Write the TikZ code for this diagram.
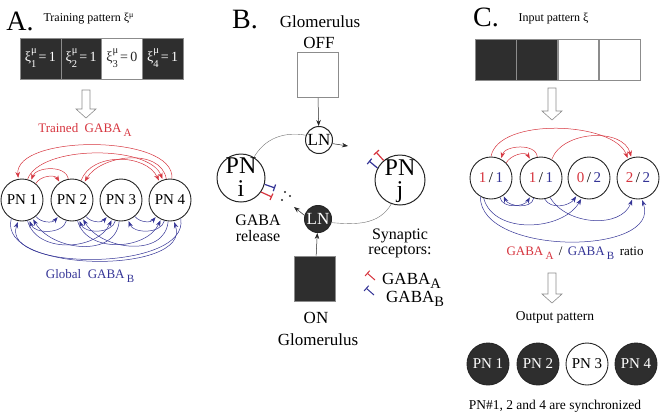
\documentclass[tikz,border=0pt]{standalone}
\usepackage{fontspec}
\setmainfont{Liberation Serif}
\usetikzlibrary{arrows.meta}
\definecolor{gabared}{RGB}{214,52,62}
\definecolor{gabablue}{RGB}{52,52,150}
\definecolor{cellfill}{RGB}{46,46,46}
\definecolor{edgegray}{RGB}{140,140,140}
\newcommand{\fs}[1]{\fontsize{#1}{#1}\selectfont}
\newcommand{\gsub}[1]{\raisebox{-0.6ex}{\scalebox{0.85}{#1}}}
\newcommand{\xicell}[2]{ξ\rlap{\raisebox{1.2ex}{\scalebox{0.75}{μ}}}\raisebox{-1ex}{\scalebox{0.75}{#1}}\,=\,#2}
\newcommand{\hollowdown}[3]{%
  \draw[hollow] (#1-4,-#2) -- (#1-4,-#3+9) -- (#1-10,-#3+9) -- (#1,-#3)
    -- (#1+10,-#3+9) -- (#1+4,-#3+9) -- (#1+4,-#2) -- cycle;}
\tikzset{
  panel/.style={font=\fs{28}},
  cell/.style={draw=edgegray, fill=cellfill, text=white, minimum width=40.75pt,
    minimum height=41pt, inner sep=0pt, font=\fs{14}},
  cellOff/.style={cell, fill=white, text=black!85},
  pn/.style={circle, draw=black!85, line width=0.9pt, minimum size=42pt, inner sep=0pt, font=\fs{15}},
  pnOn/.style={pn, fill=cellfill, text=white},
  bigpn/.style={circle, draw=black!85, line width=1pt, inner sep=0pt},
  bigtxt/.style={font=\fs{24}, inner sep=0pt, anchor=base},
  ln/.style={circle, draw=black!85, line width=1pt, minimum size=27pt, inner sep=0pt, font=\fs{17}},
  gabaA/.style={draw=gabared, line width=0.5pt, shorten >=1pt, -{Stealth[length=6pt,width=4.5pt]}},
  gabaB/.style={draw=gabablue, line width=0.5pt, shorten >=1pt, -{Stealth[length=6pt,width=4.5pt]}},
  hollow/.style={draw=edgegray, fill=white, line width=0.6pt},
  wire/.style={draw=black!55, line width=0.4pt},
  feed/.style={draw=black!85, line width=0.5pt, -{Stealth[length=6pt,width=4.5pt]}},
  synA/.style={draw=gabared, line width=1.2pt, -{Bar[width=7pt]}},
  synB/.style={draw=gabablue, line width=1.2pt, -{Bar[width=7pt]}},
  glom/.style={draw=edgegray, line width=0.7pt, minimum width=41pt, minimum height=45pt, inner sep=0pt},
  txt/.style={font=\fs{17}, inner sep=1pt},
  btxt/.style={font=\fs{16}, inner sep=0pt, anchor=base}
}
\begin{document}
\begin{tikzpicture}[x=1pt,y=1pt]
  \useasboundingbox (0,0) rectangle (664,-416);

  % A. training
  \node[panel] (labA) at (20,-21) {A.};
  \node[anchor=west, font=\fs{12}] (trainA) at (40,-19) {Training pattern ξ\textsuperscript{μ}};
  \foreach \k/\x/\v in {1/40.4/1, 2/81.1/1, 4/162.6/1}
    \node[cell] (xa\k) at (\x,-58.5) {\xicell{\k}{\v}};
  \node[cellOff] (xa3) at (121.9,-58.5) {\xicell{3}{0}};
  \hollowdown{86}{90}{118}
  \node[font=\fs{13}, text=gabared] (trainedA) at (85,-130) {Trained\enspace GABA\,\gsub{A}};
  \foreach \k/\x in {1/22, 2/72, 3/121, 4/170}
    \node[pn] (pa\k) at (\x,-200) {PN \k};

  \draw[gabaA] (pa1.50) to[out=60,in=120] (pa2.125);
  \draw[gabaA] (pa2.100) to[out=100,in=70] (pa1.65);
  \draw[gabaA] (pa2.65) to[out=70,in=115] (pa4.120);
  \draw[gabaA] (pa4.100) to[out=100,in=60] (pa2.55);
  \draw[gabaA] (pa1.75) to[out=70,in=110,looseness=0.7] (pa4.110);
  \draw[gabaA] (pa4.85) to[out=85,in=95,looseness=0.75] (pa1.100);

  \foreach \i/\j/\a/\b/\l in {1/2/-50/-130/1, 2/3/-50/-130/1, 3/4/-50/-130/1,
      2/1/-105/-70/1, 3/2/-105/-70/1, 4/3/-105/-70/1,
      1/3/-75/-115/1.05, 2/4/-75/-115/1.05, 3/1/-95/-60/1.1, 4/2/-95/-60/1.1}
    \draw[gabaB] (pa\i.\a) to[out=\a,in=\b,looseness=\l] (pa\j.\b);
  \draw[gabaB] (pa1.-120) to[out=-105,in=-70,looseness=0.9] (pa4.-80);
  \draw[gabaB] (pa4.-60) to[out=-80,in=-110,looseness=0.85] (pa1.-100);
  \node[font=\fs{13}, text=gabablue] (globalB) at (90,-276) {Global\enspace GABA\,\gsub{B}};

  % B. circuit
  \node[panel] (labB) at (245,-20) {B.};
  \node[txt] (glomoff) at (320,-22) {Glomerulus};
  \node[txt] (offtxt) at (319,-43) {OFF};
  \node[glom, fill=white] (boxoff) at (317.5,-75) {};
  \node[ln] (lnoff) at (319,-140) {LN};
  \node[bigpn, minimum size=48pt] (pni) at (241,-178) {};
  \node[bigtxt] (pnitop) at (241,-173) {PN};
  \node[bigtxt] (pnibot) at (241,-196) {i};
  \node[bigpn, minimum size=50pt] (pnj) at (400,-180) {};
  \node[bigtxt] (pnjtop) at (400,-175) {PN};
  \node[bigtxt] (pnjbot) at (400,-197) {j};
  \node[ln, fill=cellfill, text=white] (lnon) at (318,-219) {LN};
  \node[glom, fill=cellfill] (boxon) at (315,-278.5) {};
  \node[txt] (ontxt) at (316,-318) {ON};
  \node[txt] (glomon) at (318,-340) {Glomerulus};
  \node[btxt] (relA) at (258,-225) {GABA};
  \node[btxt] (relB) at (258,-241) {release};
  \node[btxt] (recpA) at (400,-239) {Synaptic};
  \node[btxt] (recpB) at (400,-254) {receptors:};

  \draw[feed] (boxoff) -- (lnoff);
  \draw[feed] (boxon) -- (lnon);
  \coordinate (offtip) at (348,-146);
  \coordinate (ontip) at (294,-207);
  \draw[wire] (pni.58) to[out=60,in=170] (lnoff.160);
  \draw[feed] (lnoff.-15) -- (offtip);
  \draw[wire] (pnj.-110) to[out=-120,in=-5] (lnon.-15);
  \draw[feed] (lnon.165) -- (ontip);
  \foreach \p in {(285,-192), (290,-196), (282,-200)}
    \fill[black!85] \p circle (1.1pt);

  \coordinate (relBend) at (275,-188);
  \coordinate (relAend) at (272,-197);
  \coordinate (recAend) at (376,-152);
  \coordinate (recBend) at (369,-161);
  \draw[synB] (pni.-15) -- (relBend);
  \draw[synA] (pni.-35) -- (relAend);
  \draw[synA] (pnj.130) -- (recAend);
  \draw[synB] (pnj.152) -- (recBend);

  \coordinate (legA0) at (375,-280);
  \coordinate (legA1) at (367,-273);
  \coordinate (legB0) at (374,-295);
  \coordinate (legB1) at (366,-288);
  \draw[synA, line width=1pt] (legA0) -- (legA1);
  \draw[synB, line width=1pt] (legB0) -- (legB1);
  \node[txt, anchor=west] (legA) at (381,-281) {GABA\gsub{A}};
  \node[txt, anchor=west] (legB) at (385,-299) {GABA\gsub{B}};

  % C. recall
  \node[panel] (labC) at (486,-17) {C.};
  \node[anchor=west, font=\fs{12}] (inputC) at (515,-19) {Input pattern ξ};
  \foreach \k/\x in {1/495.6, 2/536.9}
    \node[cell] (xc\k) at (\x,-60) {};
  \foreach \k/\x in {3/578.1, 4/619.4}
    \node[cellOff] (xc\k) at (\x,-60) {};
  \hollowdown{552}{88}{120}
  \foreach \k/\x/\r/\b in {1/491/1/1, 2/541/1/1, 3/589/0/2, 4/638/2/2}
    \node[pn] (pc\k) at (\x,-178) {\textcolor{gabared}{\r}\,/\,\textcolor{gabablue}{\b}};

  \draw[gabaA] (pc1.45) to[out=60,in=120] (pc2.120);
  \draw[gabaA] (pc2.100) to[out=95,in=75] (pc1.62);
  \draw[gabaA] (pc1.90) to[out=80,in=110,looseness=0.75] (pc4.118);
  \draw[gabaA] (pc2.60) to[out=70,in=105] (pc4.108);

  \draw[gabaB] (pc2.-110) to[out=-100,in=-65] (pc1.-55);
  \draw[gabaB] (pc1.-65) to[out=-80,in=-120] (pc2.-120);
  \draw[gabaB] (pc1.-110) to[out=-75,in=-120] (pc3.-110);
  \draw[gabaB] (pc2.-80) to[out=-60,in=-125] (pc3.-125);
  \draw[gabaB] (pc1.-120) to[out=-90,in=-70,looseness=0.95] (pc4.-80);
  \draw[gabaB] (pc2.-65) to[out=-60,in=-110] (pc4.-105);

  \node[font=\fs{13}, anchor=west] (ratio) at (503,-253)
    {\textcolor{gabared}{GABA\,\gsub{A}} \,/\, \textcolor{gabablue}{GABA\,\gsub{B}}\, ratio};
  \hollowdown{552}{273}{303}
  \node[font=\fs{13.5}] (outC) at (555,-317) {Output pattern};
  \node[pnOn] (po1) at (488,-364) {PN 1};
  \node[pnOn] (po2) at (538,-364) {PN 2};
  \node[pn] (po3) at (587,-364) {PN 3};
  \node[pnOn] (po4) at (636,-364) {PN 4};
  \node[font=\fs{13.5}] (syncC) at (555,-406) {PN\#1, 2 and 4 are synchronized};
\end{tikzpicture}
\end{document}
